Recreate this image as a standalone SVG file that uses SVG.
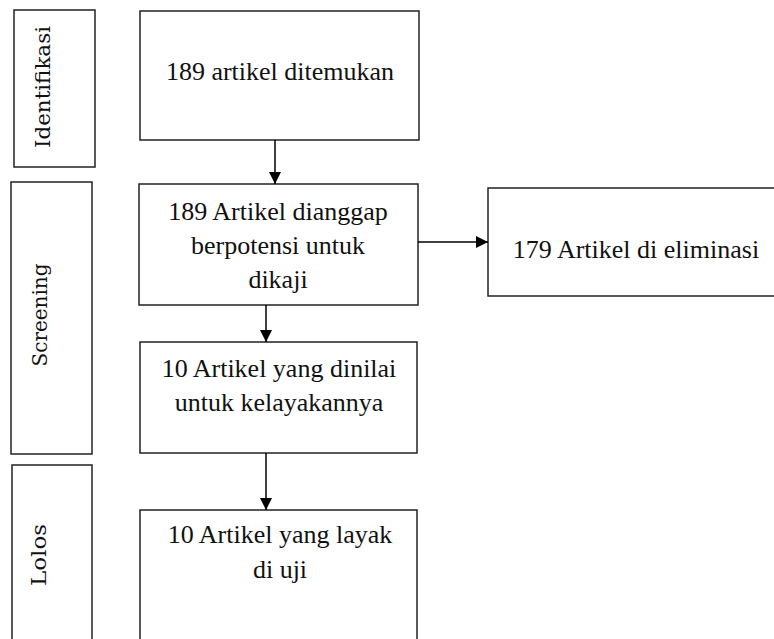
<svg xmlns="http://www.w3.org/2000/svg" width="774" height="639" viewBox="0 0 774 639">
<defs>
<marker id="ah" markerWidth="12" markerHeight="12" viewBox="0 0 12 12" refX="12" refY="6" orient="auto" markerUnits="userSpaceOnUse">
<path d="M0,0 L12,6 L0,12 Z" fill="#000"/>
</marker>
</defs>
<rect width="774" height="639" fill="#fff"/>
<g fill="#fff" stroke="#222" stroke-width="1.5">
<g id="stage-identifikasi">
<rect x="14" y="10" width="81" height="157"/>
<text transform="translate(50,87) rotate(-90)" font-family="DejaVu Serif" font-size="20" fill="#111" stroke="none" text-anchor="middle" textLength="122" lengthAdjust="spacingAndGlyphs">Identifikasi</text>
</g>
<g id="stage-screening">
<rect x="11" y="182" width="81" height="272"/>
<text transform="translate(47,315) rotate(-90)" font-family="DejaVu Serif" font-size="20" fill="#111" stroke="none" text-anchor="middle" textLength="103" lengthAdjust="spacingAndGlyphs">Screening</text>
</g>
<g id="stage-lolos">
<rect x="12" y="465" width="80" height="190"/>
<text transform="translate(46,555) rotate(-90)" font-family="DejaVu Serif" font-size="20" fill="#111" stroke="none" text-anchor="middle" textLength="62" lengthAdjust="spacingAndGlyphs">Lolos</text>
</g>
</g>
<g fill="#fff" stroke="#222" stroke-width="1.5">
<g id="n1">
<rect x="140" y="11" width="279" height="129"/>
<text x="280" y="80" font-family="Liberation Serif" font-size="26" fill="#111" stroke="none" text-anchor="middle">189 artikel ditemukan</text>
</g>
<g id="n2">
<rect x="139" y="184" width="279" height="121"/>
<text x="278" y="220" font-family="Liberation Serif" font-size="26" fill="#111" stroke="none" text-anchor="middle">189 Artikel dianggap</text>
<text x="278" y="254" font-family="Liberation Serif" font-size="26" fill="#111" stroke="none" text-anchor="middle">berpotensi untuk</text>
<text x="278" y="288" font-family="Liberation Serif" font-size="26" fill="#111" stroke="none" text-anchor="middle">dikaji</text>
</g>
<g id="n3">
<rect x="488" y="188" width="300" height="108"/>
<text x="636" y="258" font-family="Liberation Serif" font-size="26" fill="#111" stroke="none" text-anchor="middle">179 Artikel di eliminasi</text>
</g>
<g id="n4">
<rect x="140" y="342" width="277" height="111"/>
<text x="279" y="377" font-family="Liberation Serif" font-size="26" fill="#111" stroke="none" text-anchor="middle">10 Artikel yang dinilai</text>
<text x="279" y="411" font-family="Liberation Serif" font-size="26" fill="#111" stroke="none" text-anchor="middle">untuk kelayakannya</text>
</g>
<g id="n5">
<rect x="140" y="510" width="277" height="150"/>
<text x="280" y="543" font-family="Liberation Serif" font-size="26" fill="#111" stroke="none" text-anchor="middle">10 Artikel yang layak</text>
<text x="280" y="578" font-family="Liberation Serif" font-size="26" fill="#111" stroke="none" text-anchor="middle">di uji</text>
</g>
</g>
<g id="connectors" stroke="#000" stroke-width="1.5" fill="none">
<line x1="275" y1="140" x2="275" y2="184" marker-end="url(#ah)"/>
<line x1="418" y1="242" x2="488" y2="242" marker-end="url(#ah)"/>
<line x1="266" y1="305" x2="266" y2="342" marker-end="url(#ah)"/>
<line x1="266" y1="453" x2="266" y2="510" marker-end="url(#ah)"/>
</g>
</svg>
